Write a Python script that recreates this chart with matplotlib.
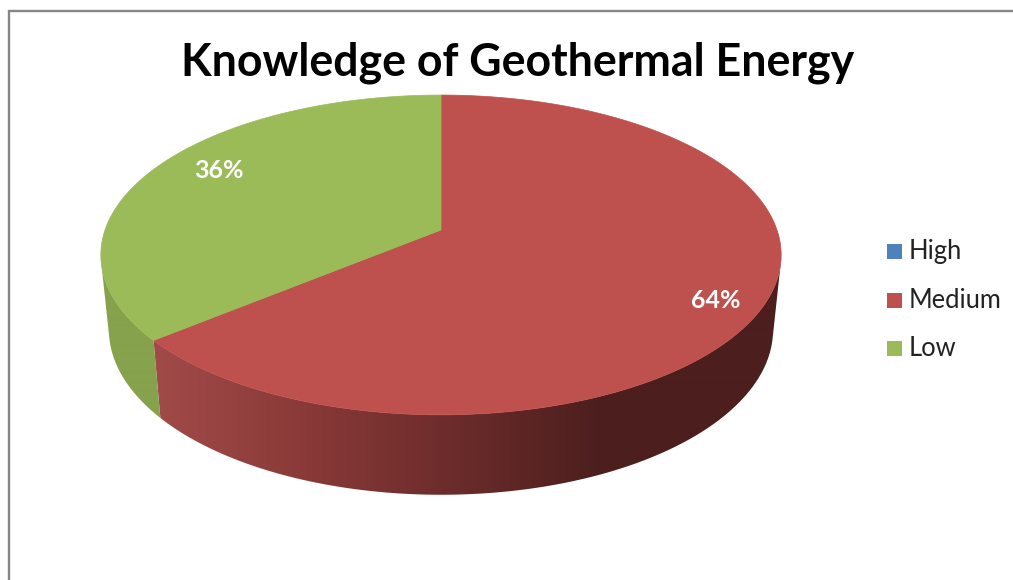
import numpy as np
import matplotlib
matplotlib.use("Agg")
import matplotlib.pyplot as plt
from matplotlib.colors import to_rgb
from matplotlib.patches import PathPatch, Rectangle
from matplotlib.path import Path

categories = ["High", "Medium", "Low"]
values = [0, 64, 36]
colors = ["#4f81bd", "#be504d", "#9bbb59"]
title = "Knowledge of Geothermal Energy"

# shading of the rim, by screen x
shade_x = [100, 163, 300, 441, 600, 800]
shade_red = ["#a64b49", "#a04a48", "#8a3a38", "#6e2d2c", "#4c1f1e", "#4c1f1e"]
shade_green = ["#86a24c", "#86a24c", "#86a24c", "#86a24c", "#86a24c", "#86a24c"]

label_pos = {"Medium": (716, 300), "Low": (219, 171)}
legend_y = [251, 300, 348]

cx = 441
persp = 0.156


def project(theta, r, a, b, cy):
    # theta clockwise from 12 o'clock, tilted circle with a bit of perspective
    u = r * np.sin(theta)
    v = r * np.cos(theta)
    d = 1 + persp * v
    return cx + a * u / d, cy - b * v / d


def top(theta, r=1.0):
    return project(theta, r, 336, 156, 230)


def bottom(theta):
    return project(theta, 1.0, 328, 161, 304)


def gradient(stops):
    xs = np.arange(shade_x[0], shade_x[-1])
    rgb = np.array([to_rgb(c) for c in stops])
    return np.dstack([np.interp(xs, shade_x, rgb[:, i]) for i in range(3)])


def rim_path(start, end):
    # the outward facing quads of one slice, all wound the same way
    t = np.linspace(start, end, 240)
    quads = []
    for t0, t1 in zip(t[:-1], t[1:]):
        q = np.array([top(t0), top(t1), bottom(t1), bottom(t0)])
        area = np.sum(q[:, 0] * np.roll(q[:, 1], -1) - np.roll(q[:, 0], -1) * q[:, 1])
        if area < 0:
            quads.append(Path(np.vstack([q, q[0]]), closed=True))
    return Path.make_compound_path(*quads)


fig = plt.figure(figsize=(10.13, 5.8), dpi=100)
ax = fig.add_axes([0, 0, 1, 1])
ax.axis("off")

# chart frame, runs off the crop on the right and bottom
ax.plot([8.5, 8.5, 1013], [580, 10.5, 10.5], color="#868686", lw=1.7, solid_joinstyle="miter")

total = sum(values)
edges = np.cumsum([0] + values) / total * 2 * np.pi
rim_stops = {"Medium": shade_red, "Low": shade_green}

# rim first, then the top faces go over it
for name, start, end in zip(categories, edges[:-1], edges[1:]):
    if end <= start:
        continue
    clip = PathPatch(rim_path(start, end), transform=ax.transData, facecolor="none", edgecolor="none")
    ax.add_patch(clip)
    im = ax.imshow(gradient(rim_stops[name]), extent=(shade_x[0], shade_x[-1], 580, 0),
                   aspect="auto", interpolation="bilinear")
    im.set_clip_path(clip)

for name, color, start, end in zip(categories, colors, edges[:-1], edges[1:]):
    if end <= start:
        continue
    t = np.linspace(start, end, 300)
    x, y = top(t)
    cx0, cy0 = top(0.0, 0.0)
    ax.fill(np.r_[cx0, x], np.r_[cy0, y], color=color, lw=0.5)

for name, val in zip(categories, values):
    if name in label_pos:
        lx, ly = label_pos[name]
        ax.text(lx, ly, f"{val}%", color="white", fontsize=18, fontweight="bold",
                family="Lato", ha="center", va="center")

ax.text(518, 63, title, color="black", fontsize=32.1, fontweight="bold", family="Lato",
        ha="center", va="center")

for name, color, ly in zip(categories, colors, legend_y):
    ax.add_patch(Rectangle((887, ly - 7.5), 15, 15, facecolor=color, edgecolor="none"))
    ax.text(909, ly, name, color="#222222", fontsize=18.4, family="Lato", ha="left", va="center")

ax.set_xlim(0, 1013)
ax.set_ylim(580, 0)

fig.savefig("out.png", dpi=100)
